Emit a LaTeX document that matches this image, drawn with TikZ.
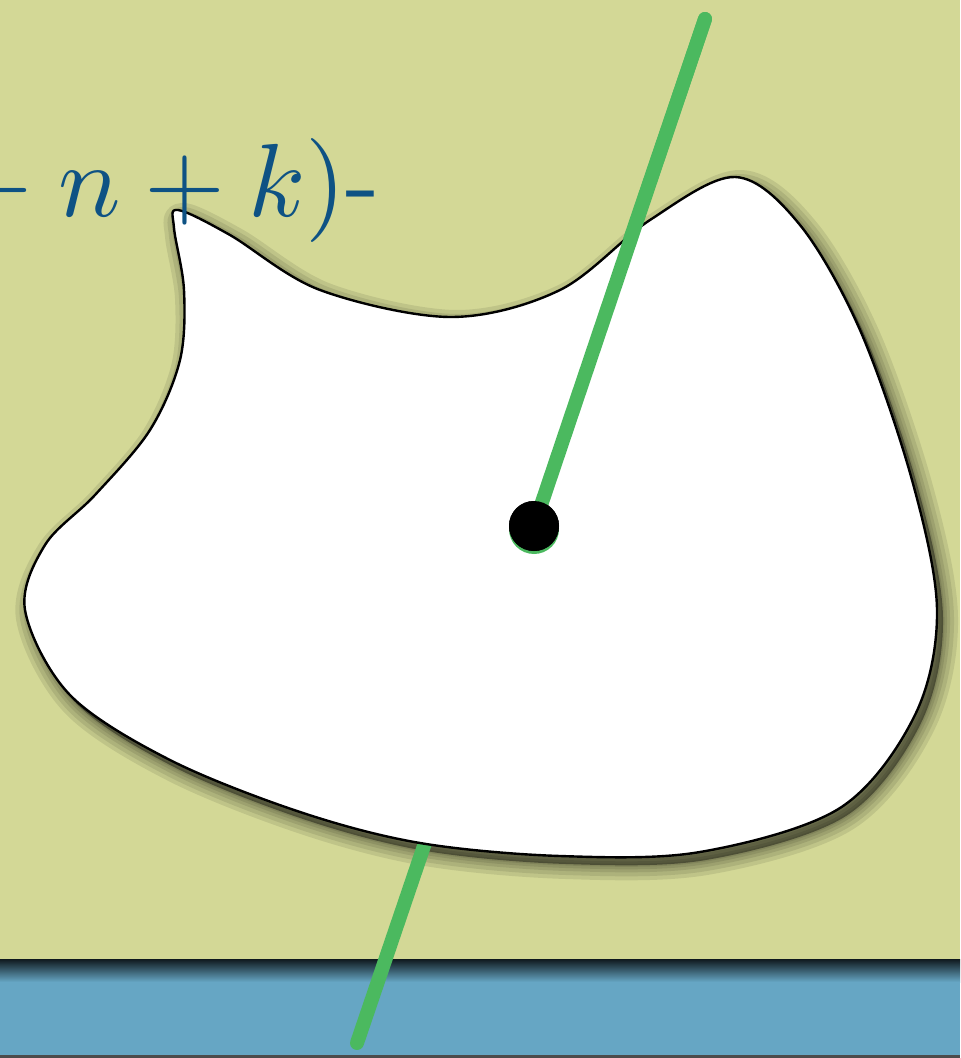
\RequirePackage{fix-cm}
\documentclass[tikz,border=0pt]{standalone}
\usetikzlibrary{positioning}

\definecolor{fond}{RGB}{211,216,150}
\definecolor{bande}{RGB}{102,166,196}
\definecolor{vert}{RGB}{75,185,95}
\definecolor{encre}{RGB}{14,82,132}

\tikzset{
  trait/.style={vert, line width=7pt, line cap=round},
  bord/.style={black, line width=1.2pt},
  pastille/.style={circle, minimum size=25pt, inner sep=0pt}
}

\begin{document}
\begin{tikzpicture}[x=0.5pt, y=-0.5pt]

  % Contour de la tache blanche
  \def\contour{plot[smooth cycle, tension=0.55] coordinates {
    (178,210) (230,235) (320,290) (451,317) (560,290) (650,220)
    (735,177) (800,225) (860,330) (912,480) (937,610) (915,715)
    (840,808) (700,852) (560,856) (420,843) (300,812) (170,760)
    (70,695) (25,610) (45,545) (95,495) (150,430) (180,360)
    (184,290) (174,228)}}

  \useasboundingbox (0,0) rectangle (960,1058);
  \clip (0,0) rectangle (960,1058);

  % Fond et bande du bas
  \fill[fond] (0,0) rectangle (960,1058);
  \fill[bande] (0,959) rectangle (960,1058);
  \shade[top color=black!85!bande, bottom color=bande] (0,959) rectangle (960,982);
  \fill[black!70] (0,1055) rectangle (960,1058);

  % ==============================================
  % Ombre portee de la tache
  % ==============================================
  \begin{scope}[shift={(6,8)}]
    \foreach \w in {30,22,14,8,3}
      \draw[line width=\w*0.5pt, black, opacity=0.09, line join=round] \contour;
    \fill[black, opacity=0.4] \contour;
  \end{scope}

  % Droite verte (partie basse, sous la tache)
  \coordinate (haut) at (705,19);
  \coordinate (bas) at (357,1043);
  \draw[trait] (haut) -- (bas);

  % La tache
  \fill[white] \contour;
  \draw[bord] \contour;

  % Partie haute de la droite et point central
  \node[pastille, fill=vert] (liseré) at (534,529) {};
  \node[pastille, fill=black] (centre) at (534,526) {};
  \draw[trait] (centre.center) -- (haut);
  \node[pastille, fill=black] at (centre) {};

  % Texte coupe a gauche
  \node[anchor=base east, inner sep=0pt, text=encre]
    (formule) at (381,217) {\scalebox{5.2}{${}-n+k)$-}};

\end{tikzpicture}
\end{document}
